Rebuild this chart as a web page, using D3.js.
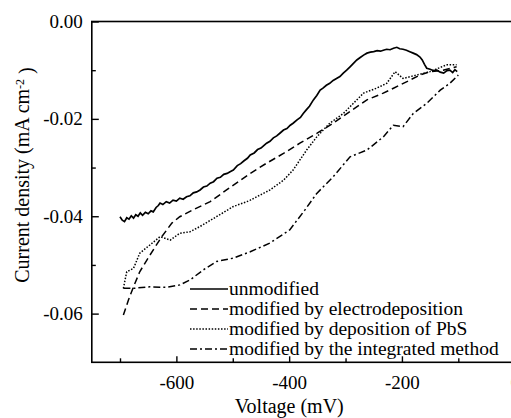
<!DOCTYPE html>
<html>
<head>
<meta charset="utf-8">
<script src="https://cdn.jsdelivr.net/npm/d3@7"></script>
<style>
  html, body { margin: 0; padding: 0; background: #fff; overflow: hidden; }
  svg { display: block; font-family: "Liberation Serif", "Times New Roman", serif; }
</style>
</head>
<body>
<div id="chart"></div>
<script>
// Linear sweep voltammetry, four electrodes

const xTicksMajor = [-600, -400, -200, 0];
const xTicksMinor = [-700, -500, -300, -100];
const yTicksMajor = [0, -0.02, -0.04, -0.06];
const yTicksMinor = [-0.01, -0.03, -0.05];

const seriesNames = [
  'unmodified',
  'modified by electrodeposition',
  'modified by deposition of PbS',
  'modified by the integrated method'
];

// [voltage mV, current density mA cm-2]
const unmodified = [
  [-700, -0.0401], [-696, -0.0408], [-692, -0.0411], [-688, -0.0403], [-684, -0.0406],
  [-680, -0.0399], [-676, -0.0404], [-672, -0.0397], [-668, -0.0400], [-664, -0.0393],
  [-660, -0.0398], [-655, -0.0392], [-650, -0.0395], [-645, -0.0389], [-641, -0.0391],
  [-636, -0.0382], [-632, -0.0378], [-629, -0.0373], [-624, -0.0376], [-618, -0.0370],
  [-612, -0.0373], [-606, -0.0367], [-600, -0.0369], [-594, -0.0363], [-588, -0.0365],
  [-582, -0.0360], [-576, -0.0358], [-570, -0.0352], [-564, -0.0350], [-558, -0.0346],
  [-552, -0.0340], [-546, -0.0338], [-540, -0.0332], [-534, -0.0329], [-528, -0.0322],
  [-522, -0.0320], [-516, -0.0314], [-510, -0.0312], [-504, -0.0308], [-499, -0.0305],
  [-492, -0.0296], [-486, -0.0292], [-480, -0.0286], [-474, -0.0281], [-469, -0.0274],
  [-462, -0.0270], [-456, -0.0263], [-450, -0.0260], [-444, -0.0254], [-440, -0.0250],
  [-434, -0.0246], [-428, -0.0239], [-422, -0.0235], [-416, -0.0229], [-410, -0.0223],
  [-404, -0.0220], [-398, -0.0213], [-393, -0.0209], [-386, -0.0202], [-380, -0.0197],
  [-375, -0.0189], [-370, -0.0182], [-364, -0.0174], [-357, -0.0161], [-351, -0.0152],
  [-345, -0.0141], [-340, -0.0137], [-334, -0.0131], [-328, -0.0127], [-322, -0.0121],
  [-316, -0.0117], [-310, -0.0113], [-304, -0.0106], [-298, -0.0100], [-292, -0.0093],
  [-286, -0.0086], [-280, -0.0079], [-274, -0.0074], [-268, -0.0069], [-262, -0.0065],
  [-256, -0.0063], [-250, -0.0062], [-244, -0.0060], [-238, -0.0061], [-233, -0.0059],
  [-227, -0.0057], [-221, -0.0058], [-215, -0.0055], [-209, -0.0053], [-204, -0.0056],
  [-198, -0.0057], [-192, -0.0059], [-186, -0.0062], [-180, -0.0065], [-174, -0.0068],
  [-168, -0.0073], [-164, -0.0079], [-160, -0.0088], [-156, -0.0096], [-150, -0.0098],
  [-144, -0.0101], [-138, -0.0100], [-132, -0.0104], [-126, -0.0106], [-120, -0.0101],
  [-115, -0.0100], [-110, -0.0105], [-106, -0.0099], [-102, -0.0103]
];

const electrodeposition = [
  [-694, -0.0603], [-685, -0.0572], [-676, -0.0545], [-665, -0.0514], [-647, -0.0480],
  [-626, -0.0442], [-608, -0.0414], [-594, -0.0401], [-571, -0.0387], [-540, -0.0370],
  [-511, -0.0346], [-469, -0.0312], [-440, -0.0291], [-410, -0.0271], [-381, -0.0250],
  [-351, -0.0230], [-322, -0.0209], [-292, -0.0185], [-262, -0.0161], [-233, -0.0147],
  [-215, -0.0137], [-192, -0.0124], [-168, -0.0110], [-150, -0.0103], [-127, -0.0100],
  [-103, -0.0093]
];

const pbs = [
  [-694, -0.0548], [-688, -0.0514], [-676, -0.0507], [-665, -0.0476], [-647, -0.0459],
  [-629, -0.0442], [-611, -0.0449], [-594, -0.0435], [-576, -0.0432], [-558, -0.0421],
  [-529, -0.0401], [-499, -0.0380], [-475, -0.0370], [-469, -0.0367], [-434, -0.0346],
  [-410, -0.0326], [-393, -0.0305], [-369, -0.0264], [-351, -0.0237], [-328, -0.0209],
  [-304, -0.0189], [-292, -0.0175], [-268, -0.0147], [-245, -0.0137], [-227, -0.0127],
  [-212, -0.0103], [-198, -0.0117], [-174, -0.0110], [-150, -0.0103], [-121, -0.0089],
  [-103, -0.0089]
];

const integrated = [
  [-694, -0.0548], [-676, -0.0548], [-647, -0.0545], [-617, -0.0546], [-594, -0.0541],
  [-576, -0.0531], [-552, -0.0510], [-529, -0.0493], [-499, -0.0486], [-469, -0.0473],
  [-434, -0.0455], [-399, -0.0428], [-372, -0.0387], [-351, -0.0353], [-322, -0.0319],
  [-292, -0.0278], [-262, -0.0264], [-233, -0.0237], [-215, -0.0213], [-198, -0.0216],
  [-180, -0.0189], [-156, -0.0168], [-132, -0.0141], [-115, -0.0127], [-100, -0.0110]
];

const seriesData = [unmodified, electrodeposition, pbs, integrated];
const dashes = [null, '7,4', '1.5,1.6', '7,3,2,3'];

const width = 530;
const height = 418;
const plot = { left: 91.8, right: 514.7, top: 21.5, bottom: 362.3 };

const svg = d3.select('#chart')
  .append('svg')
  .attr('width', width)
  .attr('height', height);

const x = d3.scaleLinear().domain([-750, 0]).range([plot.left, plot.right]);
const y = d3.scaleLinear().domain([-0.07, 0]).range([plot.bottom, plot.top]);

// minor ticks
svg.append('g')
  .attr('transform', `translate(0,${plot.bottom})`)
  .call(d3.axisBottom(x).tickValues(xTicksMinor).tickSize(-4).tickFormat(''));
svg.append('g')
  .attr('transform', `translate(${plot.left},0)`)
  .call(d3.axisLeft(y).tickValues(yTicksMinor).tickSize(-4).tickFormat(''));

// major ticks with labels
svg.append('g')
  .attr('class', 'axis-x')
  .attr('transform', `translate(0,${plot.bottom})`)
  .call(d3.axisBottom(x).tickValues(xTicksMajor).tickSize(-6).tickPadding(13).tickFormat(d => String(d)));
svg.append('g')
  .attr('class', 'axis-y')
  .attr('transform', `translate(${plot.left},0)`)
  .call(d3.axisLeft(y).tickValues(yTicksMajor).tickSize(-7).tickPadding(9).tickFormat(d => d.toFixed(2)));

svg.selectAll('.domain').remove();
svg.selectAll('.tick line').attr('stroke', '#000').attr('stroke-width', 1.4);
svg.selectAll('.tick text')
  .attr('fill', '#000')
  .style('font-family', '"Liberation Serif", serif')
  .style('font-size', '19px');

// frame
svg.append('rect')
  .attr('x', plot.left)
  .attr('y', plot.top)
  .attr('width', plot.right - plot.left)
  .attr('height', plot.bottom - plot.top)
  .attr('fill', 'none')
  .attr('stroke', '#000')
  .attr('stroke-width', 1.6);

const line = d3.line()
  .x(d => x(d[0]))
  .y(d => y(d[1]));

svg.selectAll('.curve')
  .data(seriesData)
  .enter()
  .append('path')
  .attr('class', 'curve')
  .attr('d', line)
  .attr('fill', 'none')
  .attr('stroke', '#000')
  .attr('stroke-width', (d, i) => i === 0 ? 1.7 : 1.5)
  .attr('stroke-dasharray', (d, i) => dashes[i]);

// legend
const legend = svg.append('g').attr('transform', 'translate(190,289)');
const rows = legend.selectAll('g')
  .data(seriesNames)
  .enter()
  .append('g')
  .attr('transform', (d, i) => `translate(0,${i * 20})`);

rows.append('line')
  .attr('x1', 0).attr('x2', 38)
  .attr('stroke', '#000')
  .attr('stroke-width', (d, i) => i === 0 ? 1.7 : 1.5)
  .attr('stroke-dasharray', (d, i) => dashes[i]);

rows.append('text')
  .attr('x', 39)
  .attr('dy', '0.33em')
  .style('font-size', '19.5px')
  .text(d => d);

// axis titles
svg.append('text')
  .attr('x', (plot.left + plot.right) / 2 - 14)
  .attr('y', 413)
  .attr('text-anchor', 'middle')
  .style('font-size', '20px')
  .text('Voltage (mV)');

const yTitle = svg.append('text')
  .attr('transform', 'translate(29,175) rotate(-90)')
  .attr('text-anchor', 'middle')
  .style('font-size', '20px');
yTitle.append('tspan').text('Current density (mA cm');
yTitle.append('tspan').attr('dy', '-0.45em').style('font-size', '12px').text('-2');
yTitle.append('tspan').attr('dy', '0.45em').text(' )');
</script>
</body>
</html>
